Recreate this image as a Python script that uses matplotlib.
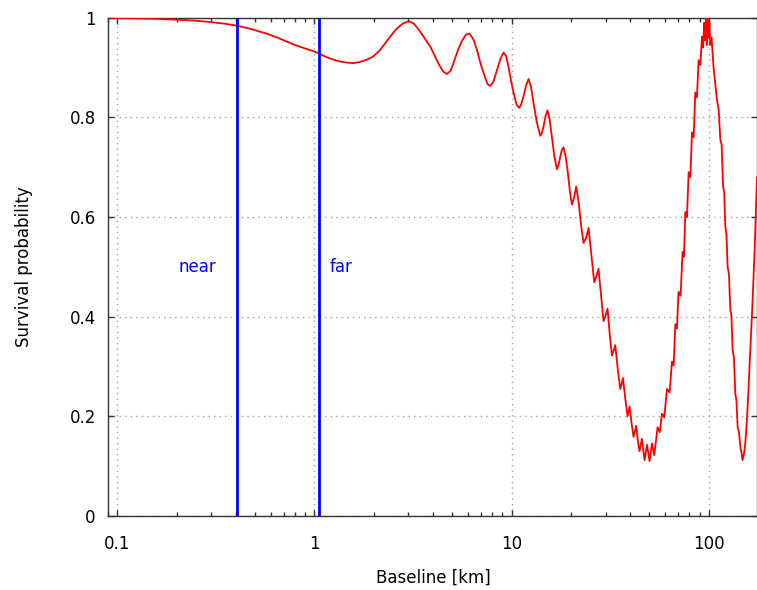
"""
Survival probability vs baseline, with near/far detector positions.
"""

import matplotlib
matplotlib.use("Agg")
import matplotlib.pyplot as plt
from matplotlib.ticker import FixedLocator, NullFormatter, LogLocator


# baseline [km] and survival probability
baseline_km = [
    0.090, 0.100, 0.150, 0.200, 0.250, 0.300, 0.350, 0.404, 0.470, 0.573,
    0.650, 0.724, 0.800, 0.900, 1.000, 1.056, 1.150, 1.244, 1.350, 1.450,
    1.578, 1.700, 1.850, 1.986, 2.150, 2.300, 2.423, 2.600, 2.800, 3.018,
    3.200, 3.400, 3.650, 3.870, 4.100, 4.300, 4.500, 4.700, 4.900, 5.080,
    5.350, 5.600, 5.870, 6.120, 6.400, 6.670, 7.000, 7.360, 7.580, 7.800,
    8.100, 8.430, 8.800, 9.110, 9.400, 9.650, 9.950, 10.24, 10.60, 10.94,
    11.20, 11.51, 11.85, 12.20, 12.55, 12.93, 13.45, 13.99, 14.25, 14.54,
    14.90, 15.23, 15.60, 16.04, 16.50, 17.00, 17.35, 17.67, 18.02, 18.37,
    18.85, 19.33, 19.80, 20.26, 20.80, 21.30, 21.90, 22.60, 23.21, 23.90,
    24.60, 25.50, 26.29, 27.00, 27.64, 28.50, 29.31, 30.00, 30.72, 31.50,
    32.33, 33.00, 33.61, 34.60, 35.63, 36.20, 36.77, 37.80, 38.80, 39.72,
    40.70, 41.61, 42.95, 43.80, 44.63, 45.91, 47.33, 48.68, 50.18, 51.61,
    53.02, 55.10, 56.5, 58.00, 59.6, 61.50, 63.4, 65.2, 66.5, 67.8, 69.1,
    70.4, 72.1, 73.8, 75.0, 76.2, 77.7, 79.2, 80.8, 82.4, 84.0, 85.6, 87.3,
    89.0, 90.8, 92.6, 93.8, 95.0, 96.0, 97.0, 98.0, 99.0, 100.0, 101.0,
    102.0, 103.5, 106.0, 108.0, 110.3, 112.5, 114.7, 116.5, 118.4, 120.0,
    121.6, 123.2, 124.9, 126.9, 128.9, 130.6, 132.4, 134.5, 136.6, 138.5,
    140.4, 142.6, 144.9, 146.8, 148.8, 151.2, 153.6, 156.0, 158.5, 162.8,
    167.3, 171.3, 176.1,
]
survival = [
    1.000, 0.999, 0.998, 0.996, 0.994, 0.991, 0.988, 0.984, 0.978, 0.968,
    0.960, 0.952, 0.945, 0.938, 0.932, 0.928, 0.921, 0.916, 0.912, 0.910,
    0.909, 0.911, 0.916, 0.922, 0.935, 0.950, 0.962, 0.977, 0.988, 0.993,
    0.988, 0.975, 0.957, 0.942, 0.922, 0.905, 0.892, 0.887, 0.893, 0.909,
    0.935, 0.953, 0.966, 0.968, 0.957, 0.936, 0.905, 0.879, 0.866, 0.863,
    0.872, 0.894, 0.918, 0.930, 0.923, 0.902, 0.873, 0.849, 0.826, 0.819,
    0.826, 0.842, 0.864, 0.877, 0.862, 0.829, 0.790, 0.763, 0.768, 0.782,
    0.803, 0.814, 0.797, 0.760, 0.722, 0.696, 0.705, 0.721, 0.735, 0.740,
    0.720, 0.688, 0.650, 0.625, 0.640, 0.661, 0.630, 0.580, 0.548, 0.558,
    0.578, 0.520, 0.469, 0.482, 0.496, 0.440, 0.391, 0.402, 0.416, 0.365,
    0.322, 0.332, 0.343, 0.295, 0.255, 0.265, 0.277, 0.235, 0.200, 0.220,
    0.185, 0.159, 0.181, 0.150, 0.130, 0.155, 0.112, 0.143, 0.110, 0.146,
    0.122, 0.178, 0.168, 0.205, 0.198, 0.255, 0.248, 0.310, 0.302, 0.385,
    0.376, 0.450, 0.442, 0.530, 0.520, 0.610, 0.600, 0.690, 0.680, 0.770,
    0.760, 0.850, 0.840, 0.915, 0.905, 0.962, 0.940, 0.990, 0.955, 1.000,
    0.945, 1.000, 0.960, 0.990, 0.945, 0.960, 0.900, 0.870, 0.835, 0.815,
    0.755, 0.745, 0.662, 0.650, 0.581, 0.565, 0.501, 0.485, 0.414, 0.402,
    0.333, 0.318, 0.246, 0.232, 0.179, 0.168, 0.139, 0.128, 0.112, 0.125,
    0.146, 0.185, 0.233, 0.333, 0.434, 0.534, 0.680,
]

detector_km = [0.404, 1.056]
detector_names = ["near", "far"]
label_x_km = [0.205, 1.20]
label_y = 0.5

y_ticks = [0, 0.2, 0.4, 0.6, 0.8, 1.0]
y_tick_labels = ["0", "0.2", "0.4", "0.6", "0.8", "1"]
x_ticks = [0.1, 1, 10, 100]
x_tick_labels = ["0.1", "1", "10", "100"]


fig = plt.figure(figsize=(7.57, 5.90), dpi=100)
ax = fig.add_axes([0.1431, 0.1254, 0.8575, 0.8446])

ax.plot(baseline_km, survival, color="#ff0000", linewidth=1.3, zorder=3)

for xk in detector_km:
    ax.axvline(xk, color="#0000ff", linewidth=2.0, zorder=4)
for name, xk in zip(detector_names, label_x_km):
    ax.text(xk, label_y, name, color="#0000ff", fontsize=12,
            ha="left", va="center")

ax.set_xscale("log")
ax.set_xlim(0.090, 177)
ax.set_ylim(0, 1)

ax.xaxis.set_major_locator(FixedLocator(x_ticks))
ax.set_xticklabels(x_tick_labels)
ax.xaxis.set_minor_locator(LogLocator(base=10, subs=range(2, 10)))
ax.xaxis.set_minor_formatter(NullFormatter())
ax.set_yticks(y_ticks)
ax.set_yticklabels(y_tick_labels)

ax.tick_params(which="both", direction="in", top=True, right=True,
               labelsize=12, width=1.0, color="#333333")
ax.tick_params(which="major", length=4.5)
ax.tick_params(which="minor", length=2.6)
ax.tick_params(axis="x", which="major", pad=14)
ax.tick_params(axis="y", which="major", pad=9)

ax.grid(True, which="major", color="#a0a0a0", linestyle=(0, (1, 3)),
        linewidth=1.0)
for spine in ax.spines.values():
    spine.set_linewidth(1.0)
    spine.set_color("#333333")

ax.set_xlabel("Baseline [km]", fontsize=12, labelpad=11)
ax.set_ylabel("Survival probability", fontsize=12, labelpad=26)

fig.savefig("out.png", dpi=100)
